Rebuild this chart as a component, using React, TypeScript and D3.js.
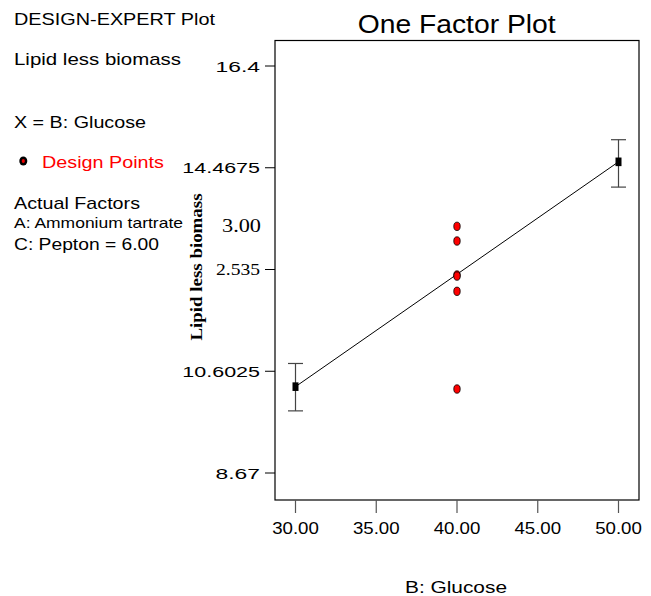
import * as d3 from "d3";

// factor levels (B: Glucose) and model predictions with error bars
const glucoseLevels = [30, 50];
const predicted = [10.31, 14.58];
const errLow = [9.85, 14.1];
const errHigh = [10.75, 15.0];

// design points (center points at 40)
const designX = [40, 40, 40, 40, 40, 40];
const designY = [13.355, 13.076, 12.43, 12.41, 12.121, 10.265];

const xTicks = [30, 35, 40, 45, 50];
const yTicks = [16.4, 14.4675, 12.535, 10.6025, 8.67];
const yTickLabels = ["16.4", "14.4675", "2.535", "10.6025", "8.67"];
const yTickSerif = [false, false, true, false, false];

const sans = "'Liberation Sans', Arial, Helvetica, sans-serif";
const serif = "'Liberation Serif', 'Times New Roman', serif";

function App() {
  const W = 651;
  const H = 596;
  const box = { left: 275, right: 639, top: 40.5, bottom: 500 };

  const x = d3.scaleLinear().domain([30, 50]).range([295.5, 618.5]);
  const y = d3.scaleLinear().domain([8.67, 16.4]).range([473, 66]);

  const line = d3
    .line<number>()
    .x((_, i) => x(glucoseLevels[i]))
    .y((d) => y(d));

  return (
    <svg
      width={W}
      height={H}
      style={{ position: "absolute", left: 0, top: 0, background: "#fff" }}
    >
      {/* left info panel */}
      <g fontFamily={sans} fill="#000">
        <text x={14} y={25} fontSize={17} textLength={201} lengthAdjust="spacingAndGlyphs">
          DESIGN-EXPERT Plot
        </text>
        <text x={14} y={65} fontSize={17} textLength={167} lengthAdjust="spacingAndGlyphs">
          Lipid less biomass
        </text>
        <text x={14} y={128} fontSize={17} textLength={132} lengthAdjust="spacingAndGlyphs">
          X = B: Glucose
        </text>
        <ellipse cx={23.3} cy={161} rx={4} ry={4.5} fill="#000" />
        <ellipse cx={23.3} cy={161} rx={1.6} ry={2} fill="#e00" />
        <text x={42} y={168} fontSize={17} fill="#ff0000" textLength={122} lengthAdjust="spacingAndGlyphs">
          Design Points
        </text>
        <text x={14} y={209} fontSize={17} textLength={126} lengthAdjust="spacingAndGlyphs">
          Actual Factors
        </text>
        <text x={14} y={228} fontSize={15} textLength={169} lengthAdjust="spacingAndGlyphs">
          A: Ammonium tartrate
        </text>
        <text x={14} y={250} fontSize={16} textLength={145} lengthAdjust="spacingAndGlyphs">
          C: Pepton = 6.00
        </text>
      </g>

      {/* title */}
      <text
        x={456.7}
        y={33}
        textAnchor="middle"
        fontFamily={sans}
        fontSize={25}
        textLength={198}
        lengthAdjust="spacingAndGlyphs"
      >
        One Factor Plot
      </text>

      {/* plot frame */}
      <rect
        x={box.left}
        y={box.top}
        width={box.right - box.left}
        height={box.bottom - box.top}
        fill="none"
        stroke="#000"
        strokeWidth={1.2}
      />

      {/* y axis ticks */}
      {yTicks.map((t, i) => (
        <g key={"y" + i}>
          <line x1={265} x2={box.left} y1={y(t)} y2={y(t)} stroke="#000" strokeWidth={1} />
          {yTickSerif[i] ? (
            <text x={260} y={y(t) + 5} textAnchor="end" fontFamily={serif} fontSize={17}
              textLength={44} lengthAdjust="spacingAndGlyphs">
              {yTickLabels[i]}
            </text>
          ) : (
            <text x={260} y={y(t) + 5.5} textAnchor="end" fontFamily={sans} fontSize={15.5}
              textLength={yTickLabels[i].length * 11.1} lengthAdjust="spacingAndGlyphs">
              {yTickLabels[i]}
            </text>
          )}
        </g>
      ))}
      <text x={261} y={231.7} textAnchor="end" fontFamily={serif} fontSize={18}
        textLength={39} lengthAdjust="spacingAndGlyphs">
        3.00
      </text>

      {/* y axis title */}
      <text
        transform={`translate(202,267) rotate(-90)`}
        textAnchor="middle"
        fontFamily={serif}
        fontWeight="bold"
        fontSize={16}
        textLength={147}
        lengthAdjust="spacingAndGlyphs"
      >
        Lipid less biomass
      </text>

      {/* x axis ticks */}
      {xTicks.map((t) => (
        <g key={"x" + t}>
          <line x1={x(t)} x2={x(t)} y1={box.bottom} y2={513} stroke="#555" strokeWidth={1.2} />
          <text x={x(t)} y={534} textAnchor="middle" fontFamily={sans} fontSize={16.5}
            textLength={46.7} lengthAdjust="spacingAndGlyphs">
            {t.toFixed(2)}
          </text>
        </g>
      ))}
      <text x={456} y={593} textAnchor="middle" fontFamily={sans} fontSize={17}
        textLength={102} lengthAdjust="spacingAndGlyphs">
        B: Glucose
      </text>

      {/* fitted line */}
      <path d={line(predicted) ?? ""} fill="none" stroke="#000" strokeWidth={1} />

      {/* error bars */}
      {glucoseLevels.map((g, i) => (
        <g key={"e" + i} stroke="#444" strokeWidth={1.2}>
          <line x1={x(g)} x2={x(g)} y1={y(errLow[i])} y2={y(errHigh[i])} />
          <line x1={x(g) - 7.5} x2={x(g) + 7.5} y1={y(errLow[i])} y2={y(errLow[i])} />
          <line x1={x(g) - 7.5} x2={x(g) + 7.5} y1={y(errHigh[i])} y2={y(errHigh[i])} />
          <rect x={x(g) - 3} y={y(predicted[i]) - 4.3} width={6} height={8.6} fill="#000" stroke="none" />
        </g>
      ))}

      {/* design points */}
      {designX.map((d, i) => (
        <ellipse
          key={"d" + i}
          cx={x(d)}
          cy={y(designY[i])}
          rx={3.2}
          ry={4.2}
          fill="#ff0000"
          stroke="#000"
          strokeWidth={0.8}
        />
      ))}
    </svg>
  );
}

export default App;
